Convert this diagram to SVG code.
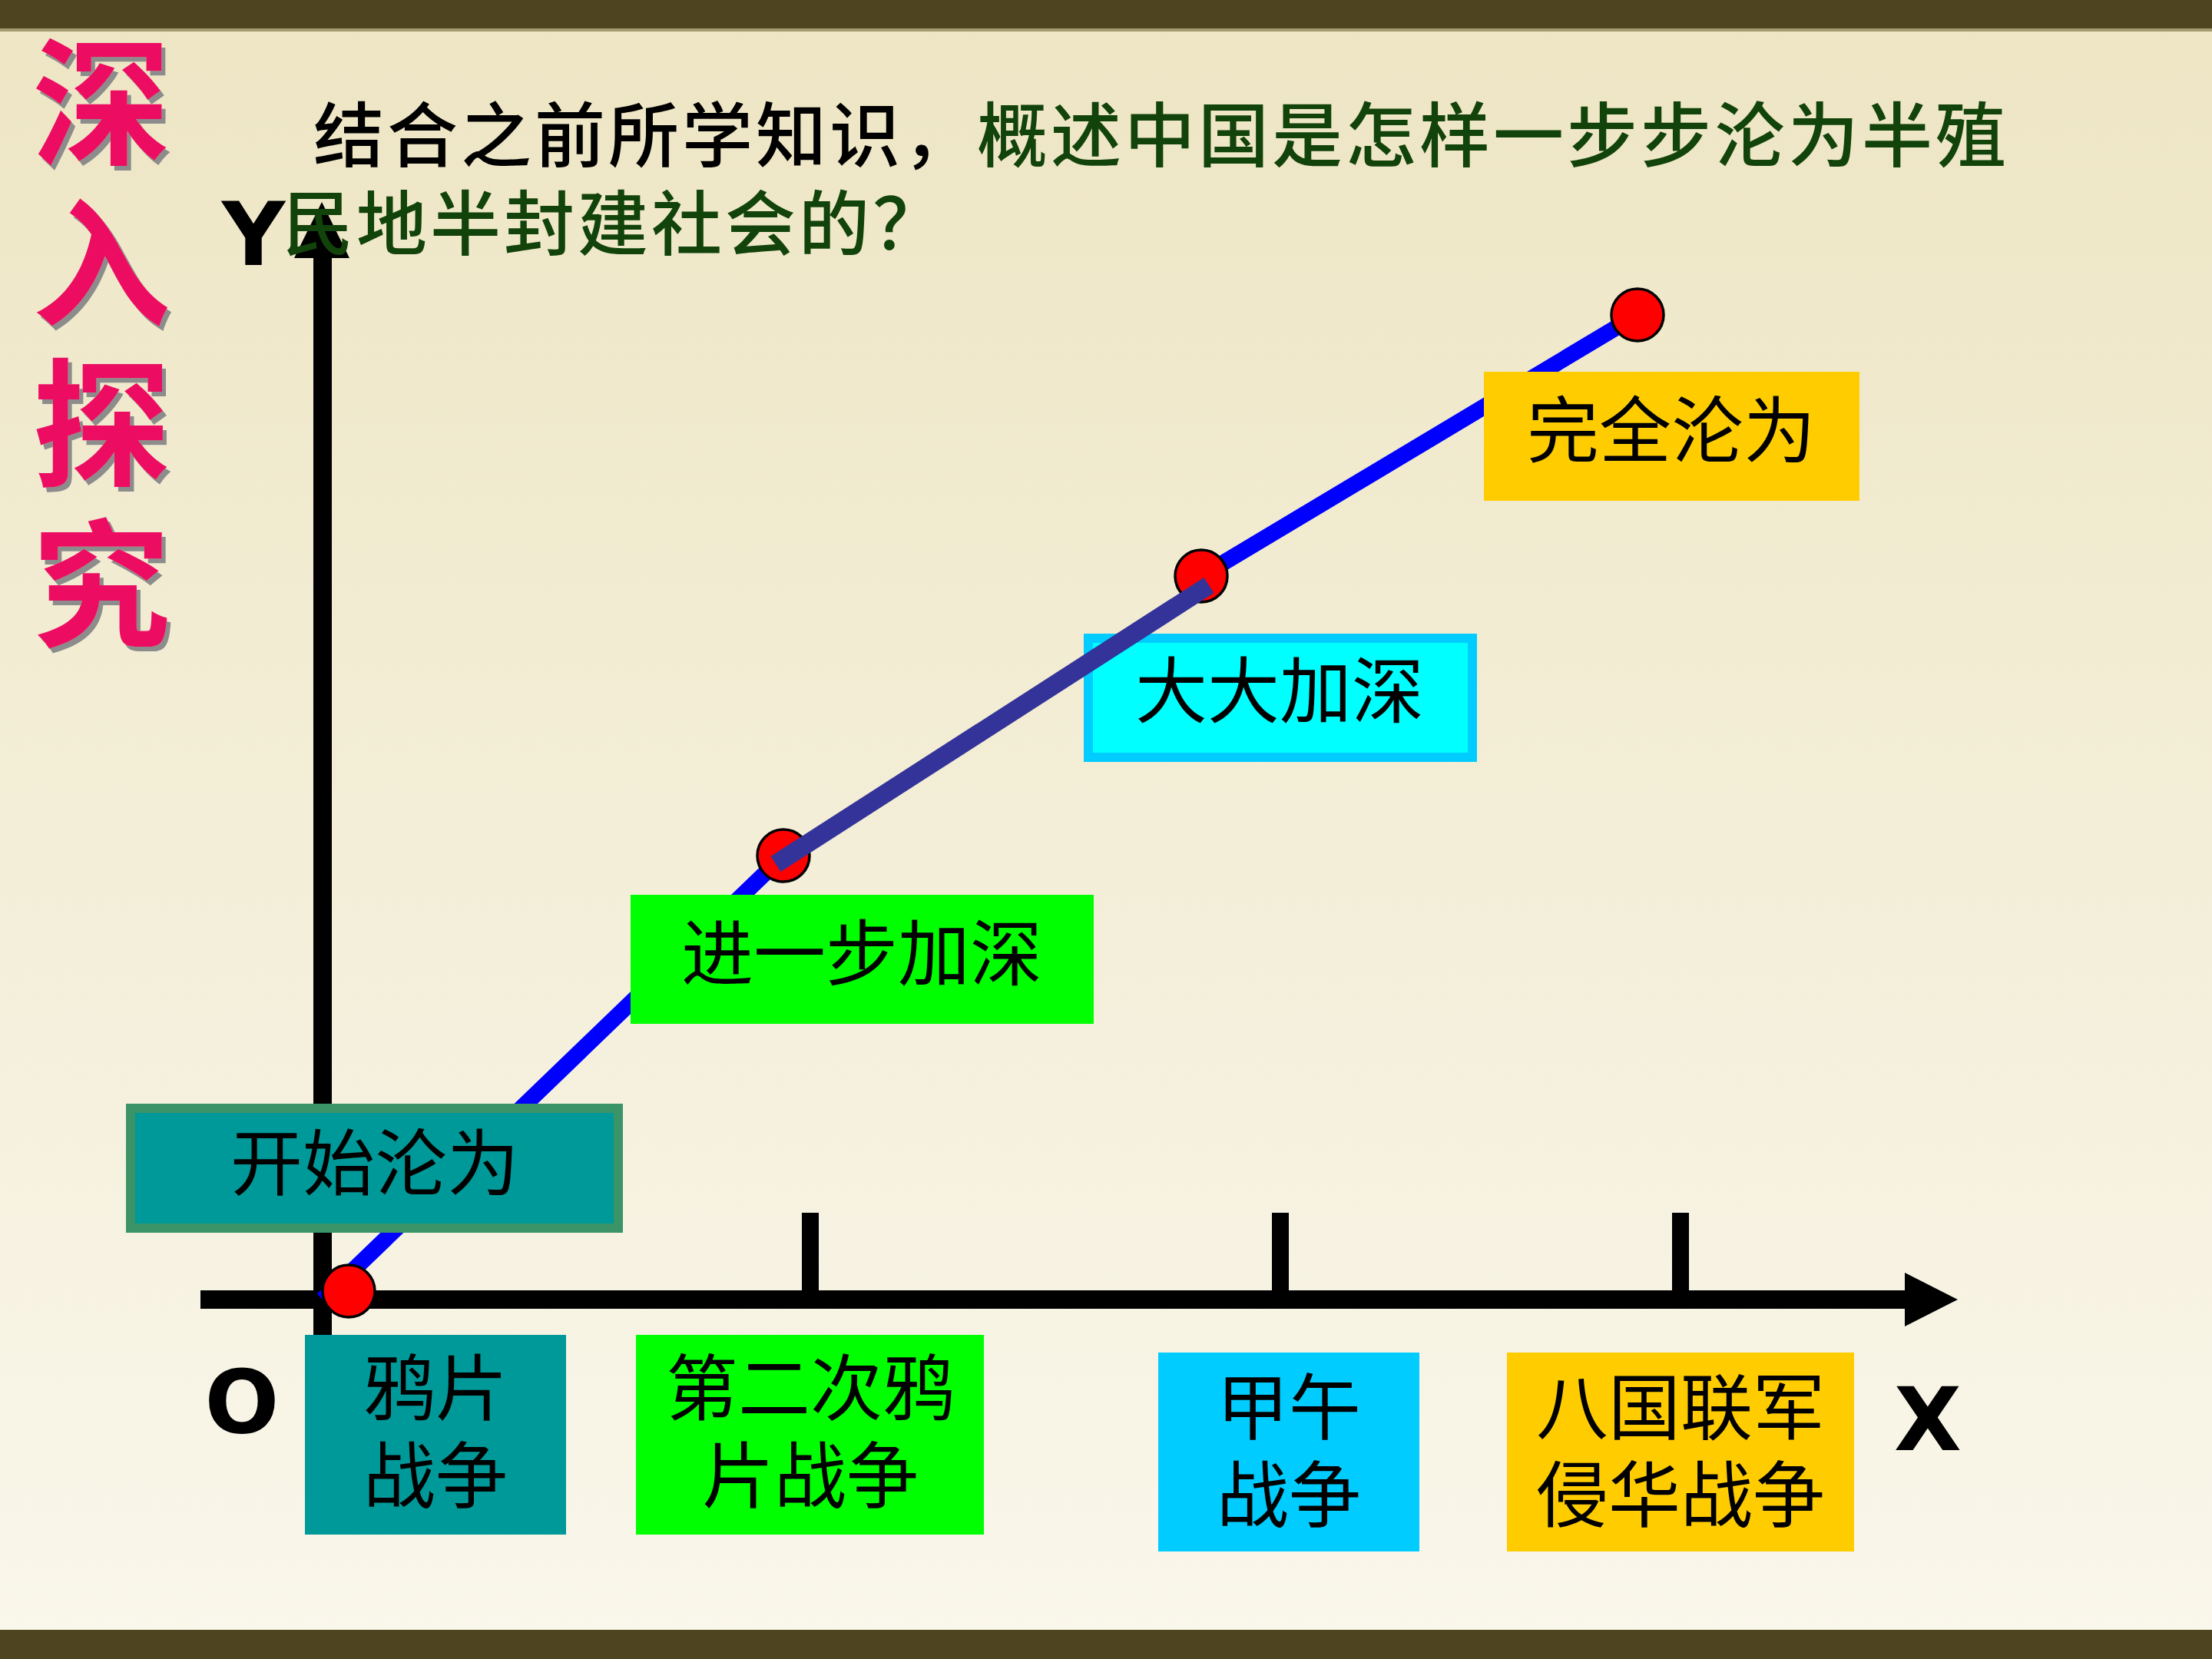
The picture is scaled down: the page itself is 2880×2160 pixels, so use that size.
<svg xmlns="http://www.w3.org/2000/svg" width="2880" height="2160" viewBox="0 0 2880 2160">
  <defs>
    <linearGradient id="bg" x1="0" y1="0" x2="0" y2="1">
      <stop offset="0" stop-color="#EDE5C3"/>
      <stop offset="1" stop-color="#FAF7EC"/>
    </linearGradient>
    <filter id="shadow" x="-10%" y="-10%" width="130%" height="130%">
      <feOffset in="SourceAlpha" dx="5" dy="6" result="off"/>
      <feFlood flood-color="#8C8C8C"/>
      <feComposite in2="off" operator="in" result="sh"/>
      <feMerge>
        <feMergeNode in="sh"/>
        <feMergeNode in="SourceGraphic"/>
      </feMerge>
    </filter>
  </defs>
  <style>
    .lbl { font-family: "Noto Sans CJK SC", "Noto Sans CJK TC", sans-serif; font-size: 94px; fill: #000; text-anchor: middle; }
    .axislbl { font-family: "DejaVu Sans", "Liberation Sans", sans-serif; font-weight: bold; font-size: 114px; fill: #000; text-anchor: middle; }
    .side { font-family: "Noto Sans CJK SC", sans-serif; font-weight: bold; font-size: 180px; fill: #EC1163; writing-mode: vertical-rl; letter-spacing: 29px; }
    .title { font-family: "Noto Sans CJK SC", sans-serif; font-weight: 500; font-size: 92px; letter-spacing: 4px; }
    .axis { stroke: #000; stroke-width: 24; fill: none; }
    .tick { stroke: #000; stroke-width: 22; fill: none; }
    .blue { stroke: #0000FF; stroke-width: 21; fill: none; }
    .navy { stroke: #333399; stroke-width: 24; fill: none; stroke-linecap: butt; }
    .dot { fill: #FF0000; stroke: #000; stroke-width: 3.5; }
  </style>

  <!-- background -->
  <rect x="0" y="0" width="2880" height="2160" fill="url(#bg)"/>
  <rect x="0" y="0" width="2880" height="37" fill="#4E4520"/>
  <rect x="0" y="37" width="2880" height="4" fill="#A49A70"/>
  <rect x="0" y="2122" width="2880" height="38" fill="#4E4520"/>

  <!-- side title -->
  <g id="side-title" filter="url(#shadow)">
    <text class="side" x="132" y="43">深入探究</text>
  </g>

  <!-- axes -->
  <g id="axes">
    <line class="axis" x1="420" y1="1740" x2="420" y2="330"/>
    <polygon points="419,263 455,336 383,336" fill="#000"/>
    <line class="axis" x1="261" y1="1692" x2="2485" y2="1692"/>
    <polygon points="2549,1692 2480,1657 2480,1727" fill="#000"/>
    <line class="tick" x1="1055" y1="1579" x2="1055" y2="1692"/>
    <line class="tick" x1="1667" y1="1579" x2="1667" y2="1692"/>
    <line class="tick" x1="2188" y1="1579" x2="2188" y2="1692"/>
    <text class="axislbl" x="330" y="345">Y</text>
    <text class="axislbl" x="315" y="1865">O</text>
    <text class="axislbl" x="2510" y="1888">X</text>
  </g>

  <!-- connectors -->
  <g id="connectors">
    <line class="blue" x1="420" y1="1692" x2="1020" y2="1114"/>
    <line class="blue" x1="1564" y1="750" x2="2132" y2="410"/>
  </g>

  <!-- points -->
  <g id="points">
    <circle class="dot" cx="454" cy="1681" r="34"/>
    <circle class="dot" cx="1020" cy="1114" r="34"/>
    <circle class="dot" cx="1564" cy="750" r="34"/>
    <circle class="dot" cx="2132" cy="410" r="34"/>
  </g>

  <!-- stage nodes -->
  <g id="node-start">
    <rect x="170" y="1443" width="635" height="156" fill="#009999" stroke="#3A9468" stroke-width="12"/>
    <text class="lbl" x="488" y="1549">开始沦为</text>
  </g>
  <g id="node-further">
    <rect x="821" y="1165" width="603" height="168" fill="#00FF00"/>
    <text class="lbl" x="1122" y="1276">进一步加深</text>
  </g>
  <g id="node-greatly">
    <rect x="1417" y="831" width="500" height="155" fill="#00FFFF" stroke="#00CCFF" stroke-width="12"/>
    <text class="lbl" x="1666" y="934">大大加深</text>
  </g>
  <g id="node-complete">
    <rect x="1932" y="484" width="489" height="168" fill="#FFCC00"/>
    <text class="lbl" x="2176" y="595">完全沦为</text>
  </g>

  <!-- war nodes -->
  <g id="node-opium1">
    <rect x="397" y="1738" width="340" height="260" fill="#009999"/>
    <text class="lbl" x="567" y="1842">鸦片<tspan x="567" dy="114">战争</tspan></text>
  </g>
  <g id="node-opium2">
    <rect x="828" y="1738" width="453" height="260" fill="#00FF00"/>
    <text class="lbl" x="1055" y="1842">第二次鸦<tspan x="1055" dy="114">片战争</tspan></text>
  </g>
  <g id="node-jiawu">
    <rect x="1508" y="1761" width="340" height="259" fill="#00CCFF"/>
    <text class="lbl" x="1678" y="1867">甲午<tspan x="1678" dy="114">战争</tspan></text>
  </g>
  <g id="node-eight">
    <rect x="1962" y="1761" width="452" height="259" fill="#FFCC00"/>
    <text class="lbl" x="2188" y="1867">八国联军<tspan x="2188" dy="114">侵华战争</tspan></text>
  </g>

  <!-- highlighted connector -->
  <g id="connector-highlight">
    <line class="navy" x1="1010" y1="1125" x2="1574" y2="762"/>
  </g>

  <!-- question -->
  <g id="question">
    <text class="title" x="408" y="210"><tspan fill="#000">结合之前所学知识，</tspan><tspan fill="#12430A">概述中国是怎样一步步沦为半殖</tspan></text>
    <text class="title" x="368" y="325" fill="#12430A">民地半封建社会的？</text>
  </g>
</svg>
